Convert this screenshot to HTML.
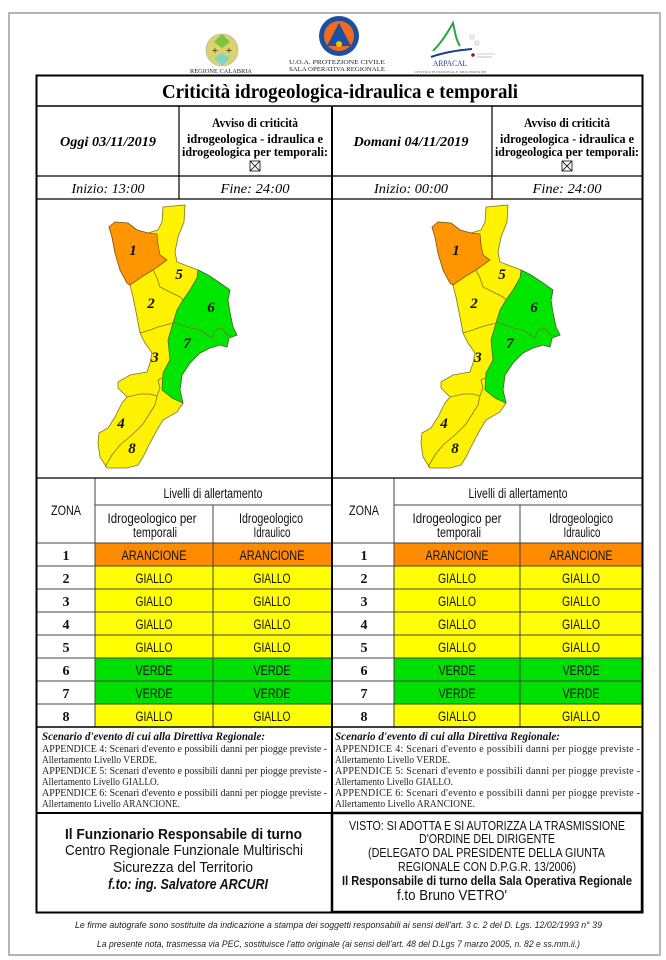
<!DOCTYPE html>
<html><head><meta charset="utf-8"><style>
html,body{margin:0;padding:0;background:#fff;}
svg{display:block;}
.sf{font-family:"Liberation Serif",serif;}
.ss{font-family:"Liberation Sans",sans-serif;}
</style></head><body>
<svg width="666" height="960" viewBox="0 0 666 960" xmlns="http://www.w3.org/2000/svg">
<rect width="666" height="960" fill="#fff"/>
<rect x="9" y="13" width="651" height="942" fill="none" stroke="#b5b5b5" stroke-width="2"/>

<!-- Logos -->
<g>
  <path d="M222,34 C232,34 238,42 238,50 C238,58 232,66 222,66 C212,66 206,58 206,50 C206,42 212,34 222,34Z" fill="#d9d36a" stroke="#bbb" stroke-width="0.8"/>
  <path d="M222,34 L214,42 L222,48 L230,42Z" fill="#7fc241"/>
  <path d="M222,66 L214,58 L222,53 L230,58Z" fill="#7fd3c8"/>
  <text x="215" y="54" font-size="11" class="sf" text-anchor="middle" fill="#111">+</text>
  <text x="229" y="54" font-size="11" class="sf" text-anchor="middle" fill="#111">+</text>
  <text x="221" y="73" font-size="6" class="sf" text-anchor="middle" textLength="62" lengthAdjust="spacingAndGlyphs" fill="#222">REGIONE CALABRIA</text>

  <circle cx="339" cy="36" r="20" fill="#1b4fa0"/>
  <circle cx="339" cy="36" r="15" fill="#f26a21"/>
  <path d="M339,23 L327,46 L351,46Z" fill="#1b4fa0"/>
  <circle cx="339" cy="44" r="3" fill="#f5c400"/>
  <text x="337" y="64" font-size="6.5" class="sf" text-anchor="middle" textLength="96" lengthAdjust="spacingAndGlyphs" fill="#222">U.O.A. PROTEZIONE CIVILE</text>
  <text x="337" y="71" font-size="6.5" class="sf" text-anchor="middle" textLength="96" lengthAdjust="spacingAndGlyphs" fill="#222">SALA OPERATIVA REGIONALE</text>

  <path d="M433,51 C442,42 448,32 453,23 C455,32 456,40 460,46" fill="none" stroke="#2aa640" stroke-width="2"/>
  <path d="M431,57 C445,52 460,50 472,49" fill="none" stroke="#1b3c8f" stroke-width="2"/>
  <text x="450" y="66" font-size="8" class="sf" text-anchor="middle" textLength="34" lengthAdjust="spacingAndGlyphs" fill="#1b3c8f">ARPACAL</text>
  <text x="450" y="73" font-size="3.5" class="sf" text-anchor="middle" textLength="72" lengthAdjust="spacingAndGlyphs" fill="#666">CENTRO FUNZIONALE MULTIRISCHI</text>
  <circle cx="472" cy="37" r="2" fill="none" stroke="#b8a" stroke-width="0.6"/>
  <circle cx="477" cy="43" r="2" fill="none" stroke="#b8a" stroke-width="0.6"/>
  <circle cx="473" cy="55" r="1.8" fill="#8b1a2e"/>
  <line x1="477" y1="54" x2="495" y2="54" stroke="#999" stroke-width="0.6"/>
  <line x1="477" y1="57" x2="492" y2="57" stroke="#999" stroke-width="0.6"/>
</g>

<!-- Table colored cells -->
<g>
  <!-- left -->
  <rect x="95" y="543" width="236" height="23" fill="#ff8c00"/>
  <rect x="95" y="566" width="236" height="92" fill="#ffff00"/>
  <rect x="95" y="658" width="236" height="46" fill="#00e000"/>
  <rect x="95" y="704" width="236" height="23" fill="#ffff00"/>
  <!-- right -->
  <rect x="394" y="543" width="248" height="23" fill="#ff8c00"/>
  <rect x="394" y="566" width="248" height="92" fill="#ffff00"/>
  <rect x="394" y="658" width="248" height="46" fill="#00e000"/>
  <rect x="394" y="704" width="248" height="23" fill="#ffff00"/>
</g>

<!-- Table lines -->
<g stroke="#444" stroke-width="1">
  <line x1="95" y1="505" x2="331" y2="505"/>
  <line x1="394" y1="505" x2="642" y2="505"/>
  <line x1="36" y1="543" x2="643" y2="543"/>
  <line x1="36" y1="566" x2="643" y2="566"/>
  <line x1="36" y1="589" x2="643" y2="589"/>
  <line x1="36" y1="612" x2="643" y2="612"/>
  <line x1="36" y1="635" x2="643" y2="635"/>
  <line x1="36" y1="658" x2="643" y2="658"/>
  <line x1="36" y1="681" x2="643" y2="681"/>
  <line x1="36" y1="704" x2="643" y2="704"/>
  <line x1="95" y1="478" x2="95" y2="727"/>
  <line x1="213" y1="505" x2="213" y2="727"/>
  <line x1="394" y1="478" x2="394" y2="727"/>
  <line x1="520" y1="505" x2="520" y2="727"/>
</g>

<!-- Main frame lines -->
<g stroke="#000" fill="none">
  <rect x="36.5" y="75.5" width="606" height="837" stroke-width="2"/>
  <line x1="36" y1="106" x2="643" y2="106" stroke-width="1.5"/>
  <line x1="36" y1="176" x2="643" y2="176" stroke-width="1.3"/>
  <line x1="36" y1="199" x2="643" y2="199" stroke-width="1.3"/>
  <line x1="36" y1="478" x2="643" y2="478" stroke-width="1.3"/>
  <line x1="36" y1="727" x2="643" y2="727" stroke-width="1.5"/>
  <line x1="36" y1="813" x2="643" y2="813" stroke-width="2"/>
  <line x1="179" y1="106" x2="179" y2="199" stroke-width="1.2"/>
  <line x1="492" y1="106" x2="492" y2="199" stroke-width="1.2"/>
  <line x1="332" y1="106" x2="332" y2="912" stroke-width="2"/>
</g>

<!-- Title and headers -->
<text x="340" y="98" font-size="20" font-weight="bold" class="sf" text-anchor="middle" textLength="356" lengthAdjust="spacingAndGlyphs">Criticità idrogeologica-idraulica e temporali</text>

<text x="108" y="146" font-size="14" font-weight="bold" font-style="italic" class="sf" text-anchor="middle" textLength="96" lengthAdjust="spacingAndGlyphs">Oggi 03/11/2019</text>
<text x="411" y="146" font-size="14" font-weight="bold" font-style="italic" class="sf" text-anchor="middle" textLength="115" lengthAdjust="spacingAndGlyphs">Domani 04/11/2019</text>

<g class="sf" font-size="12.5" font-weight="bold" text-anchor="middle">
  <text x="255" y="127" textLength="86" lengthAdjust="spacingAndGlyphs">Avviso di criticità</text>
  <text x="255" y="143" textLength="136" lengthAdjust="spacingAndGlyphs">idrogeologica - idraulica e</text>
  <text x="255" y="156" textLength="146" lengthAdjust="spacingAndGlyphs">idrogeologica per temporali:</text>
  <text x="567" y="127" textLength="86" lengthAdjust="spacingAndGlyphs">Avviso di criticità</text>
  <text x="567" y="143" textLength="134" lengthAdjust="spacingAndGlyphs">idrogeologica - idraulica e</text>
  <text x="567" y="156" textLength="144" lengthAdjust="spacingAndGlyphs">idrogeologica per temporali:</text>
</g>
<g fill="none" stroke="#222" stroke-width="0.9">
  <rect x="250" y="161" width="10" height="10"/>
  <line x1="250" y1="161" x2="260" y2="171"/><line x1="260" y1="161" x2="250" y2="171"/>
  <rect x="562" y="161" width="10" height="10"/>
  <line x1="562" y1="161" x2="572" y2="171"/><line x1="572" y1="161" x2="562" y2="171"/>
</g>

<g class="sf" font-size="14" font-style="italic" text-anchor="middle">
  <text x="108" y="193" textLength="73" lengthAdjust="spacingAndGlyphs">Inizio: 13:00</text>
  <text x="255" y="193" textLength="69" lengthAdjust="spacingAndGlyphs">Fine: 24:00</text>
  <text x="411" y="193" textLength="74" lengthAdjust="spacingAndGlyphs">Inizio: 00:00</text>
  <text x="567" y="193" textLength="69" lengthAdjust="spacingAndGlyphs">Fine: 24:00</text>
</g>

<!-- Maps -->
<g id="mapL">
  <polygon points="163,207 185,205 184,222 178,237 175,252 177,262 198,270 208,275 220,283 230,290 228,300 230,313 233,327 237,335 229,338 227,347 220,345 210,348 200,353 190,363 182,375 180,390 183,403 177,412 163,420 157,430 150,443 143,457 138,465 127,468 107,468 100,457 98,443 99,433 108,428 115,417 122,403 127,397 118,388 118,382 130,375 147,372 150,363 152,353 145,343 140,333 137,317 133,297 130,285 127,283 120,270 115,253 112,237 109,227 115,222 128,223 137,230 148,233 158,230 162,222" fill="#fff200" stroke="#7a7430" stroke-width="0.8"/>
  <polygon points="109,227 115,222 128,223 137,230 148,233 157,234 158,245 160,255 167,260 160,265 153,270 143,276 130,285 127,283 120,270 115,253 112,237" fill="#ff9500" stroke="#7a5a20" stroke-width="0.8"/>
  <polygon points="198,270 208,275 220,283 230,290 228,300 230,313 233,327 237,335 229,338 227,347 220,345 210,348 200,353 190,363 182,375 180,390 183,403 172,398 162,390 163,373 170,360 168,340 173,323 177,310 183,300 190,290 197,278" fill="#00e600" stroke="#3a6a30" stroke-width="0.8"/>
  <g fill="none" stroke="#7a7430" stroke-width="0.8">
    <polyline points="153,270 157,278 160,287 170,292 180,297 183,300"/>
    <polyline points="140,333 150,330 158,327 173,323"/>
    <polyline points="173,322 187,327 200,330 212,338 215,330 222,328 227,335 233,336"/>
    <polyline points="127,397 140,394 150,394 157,396"/>
    <polyline points="157,396 160,388 158,380 162,378"/>
    <polyline points="105,467 112,455 120,445 132,435 143,424 150,413 155,405 157,396"/>
  </g>
  <g class="sf" font-size="15" font-weight="bold" font-style="italic" text-anchor="middle" fill="#111">
    <text x="133" y="255">1</text><text x="179" y="279">5</text><text x="151" y="308">2</text>
    <text x="211" y="312">6</text><text x="187" y="348">7</text><text x="155" y="362">3</text>
    <text x="121" y="428">4</text><text x="132" y="453">8</text>
  </g>
</g>
<g transform="translate(323,0)">
  <polygon points="163,207 185,205 184,222 178,237 175,252 177,262 198,270 208,275 220,283 230,290 228,300 230,313 233,327 237,335 229,338 227,347 220,345 210,348 200,353 190,363 182,375 180,390 183,403 177,412 163,420 157,430 150,443 143,457 138,465 127,468 107,468 100,457 98,443 99,433 108,428 115,417 122,403 127,397 118,388 118,382 130,375 147,372 150,363 152,353 145,343 140,333 137,317 133,297 130,285 127,283 120,270 115,253 112,237 109,227 115,222 128,223 137,230 148,233 158,230 162,222" fill="#fff200" stroke="#7a7430" stroke-width="0.8"/>
  <polygon points="109,227 115,222 128,223 137,230 148,233 157,234 158,245 160,255 167,260 160,265 153,270 143,276 130,285 127,283 120,270 115,253 112,237" fill="#ff9500" stroke="#7a5a20" stroke-width="0.8"/>
  <polygon points="198,270 208,275 220,283 230,290 228,300 230,313 233,327 237,335 229,338 227,347 220,345 210,348 200,353 190,363 182,375 180,390 183,403 172,398 162,390 163,373 170,360 168,340 173,323 177,310 183,300 190,290 197,278" fill="#00e600" stroke="#3a6a30" stroke-width="0.8"/>
  <g fill="none" stroke="#7a7430" stroke-width="0.8">
    <polyline points="153,270 157,278 160,287 170,292 180,297 183,300"/>
    <polyline points="140,333 150,330 158,327 173,323"/>
    <polyline points="173,322 187,327 200,330 212,338 215,330 222,328 227,335 233,336"/>
    <polyline points="127,397 140,394 150,394 157,396"/>
    <polyline points="157,396 160,388 158,380 162,378"/>
    <polyline points="105,467 112,455 120,445 132,435 143,424 150,413 155,405 157,396"/>
  </g>
  <g class="sf" font-size="15" font-weight="bold" font-style="italic" text-anchor="middle" fill="#111">
    <text x="133" y="255">1</text><text x="179" y="279">5</text><text x="151" y="308">2</text>
    <text x="211" y="312">6</text><text x="187" y="348">7</text><text x="155" y="362">3</text>
    <text x="121" y="428">4</text><text x="132" y="453">8</text>
  </g>
</g>

<!-- Table headers -->
<g class="ss" font-size="13.5" text-anchor="middle" fill="#111">
  <text x="66" y="515" textLength="30" lengthAdjust="spacingAndGlyphs">ZONA</text>
  <text x="213" y="498" textLength="99" lengthAdjust="spacingAndGlyphs">Livelli di allertamento</text>
  <text x="152" y="523" textLength="89" lengthAdjust="spacingAndGlyphs">Idrogeologico per</text>
  <text x="155" y="537" textLength="44" lengthAdjust="spacingAndGlyphs">temporali</text>
  <text x="271" y="523" textLength="64" lengthAdjust="spacingAndGlyphs">Idrogeologico</text>
  <text x="272" y="537" textLength="37" lengthAdjust="spacingAndGlyphs">Idraulico</text>

  <text x="364" y="515" textLength="30" lengthAdjust="spacingAndGlyphs">ZONA</text>
  <text x="518" y="498" textLength="99" lengthAdjust="spacingAndGlyphs">Livelli di allertamento</text>
  <text x="457" y="523" textLength="89" lengthAdjust="spacingAndGlyphs">Idrogeologico per</text>
  <text x="459" y="537" textLength="44" lengthAdjust="spacingAndGlyphs">temporali</text>
  <text x="581" y="523" textLength="64" lengthAdjust="spacingAndGlyphs">Idrogeologico</text>
  <text x="582" y="537" textLength="37" lengthAdjust="spacingAndGlyphs">Idraulico</text>
</g>

<!-- Zone numbers -->
<g class="sf" font-size="14" font-weight="bold" text-anchor="middle" fill="#111">
  <text x="66" y="560">1</text><text x="66" y="583">2</text><text x="66" y="606">3</text><text x="66" y="629">4</text>
  <text x="66" y="652">5</text><text x="66" y="675">6</text><text x="66" y="698">7</text><text x="66" y="721">8</text>
  <text x="364" y="560">1</text><text x="364" y="583">2</text><text x="364" y="606">3</text><text x="364" y="629">4</text>
  <text x="364" y="652">5</text><text x="364" y="675">6</text><text x="364" y="698">7</text><text x="364" y="721">8</text>
</g>

<!-- Cell values -->
<g class="ss" font-size="13.5" text-anchor="middle" fill="#111" lengthAdjust="spacingAndGlyphs">
  <text x="154" y="560" textLength="65" lengthAdjust="spacingAndGlyphs">ARANCIONE</text>
  <text x="272" y="560" textLength="65" lengthAdjust="spacingAndGlyphs">ARANCIONE</text>
  <text x="154" y="583" textLength="37" lengthAdjust="spacingAndGlyphs">GIALLO</text>
  <text x="272" y="583" textLength="37" lengthAdjust="spacingAndGlyphs">GIALLO</text>
  <text x="154" y="606" textLength="37" lengthAdjust="spacingAndGlyphs">GIALLO</text>
  <text x="272" y="606" textLength="37" lengthAdjust="spacingAndGlyphs">GIALLO</text>
  <text x="154" y="629" textLength="37" lengthAdjust="spacingAndGlyphs">GIALLO</text>
  <text x="272" y="629" textLength="37" lengthAdjust="spacingAndGlyphs">GIALLO</text>
  <text x="154" y="652" textLength="37" lengthAdjust="spacingAndGlyphs">GIALLO</text>
  <text x="272" y="652" textLength="37" lengthAdjust="spacingAndGlyphs">GIALLO</text>
  <text x="154" y="675" textLength="37" lengthAdjust="spacingAndGlyphs">VERDE</text>
  <text x="272" y="675" textLength="37" lengthAdjust="spacingAndGlyphs">VERDE</text>
  <text x="154" y="698" textLength="37" lengthAdjust="spacingAndGlyphs">VERDE</text>
  <text x="272" y="698" textLength="37" lengthAdjust="spacingAndGlyphs">VERDE</text>
  <text x="154" y="721" textLength="37" lengthAdjust="spacingAndGlyphs">GIALLO</text>
  <text x="272" y="721" textLength="37" lengthAdjust="spacingAndGlyphs">GIALLO</text>

  <text x="457" y="560" textLength="63" lengthAdjust="spacingAndGlyphs">ARANCIONE</text>
  <text x="581" y="560" textLength="63" lengthAdjust="spacingAndGlyphs">ARANCIONE</text>
  <text x="457" y="583" textLength="38" lengthAdjust="spacingAndGlyphs">GIALLO</text>
  <text x="581" y="583" textLength="38" lengthAdjust="spacingAndGlyphs">GIALLO</text>
  <text x="457" y="606" textLength="38" lengthAdjust="spacingAndGlyphs">GIALLO</text>
  <text x="581" y="606" textLength="38" lengthAdjust="spacingAndGlyphs">GIALLO</text>
  <text x="457" y="629" textLength="38" lengthAdjust="spacingAndGlyphs">GIALLO</text>
  <text x="581" y="629" textLength="38" lengthAdjust="spacingAndGlyphs">GIALLO</text>
  <text x="457" y="652" textLength="38" lengthAdjust="spacingAndGlyphs">GIALLO</text>
  <text x="581" y="652" textLength="38" lengthAdjust="spacingAndGlyphs">GIALLO</text>
  <text x="457" y="675" textLength="37" lengthAdjust="spacingAndGlyphs">VERDE</text>
  <text x="581" y="675" textLength="37" lengthAdjust="spacingAndGlyphs">VERDE</text>
  <text x="457" y="698" textLength="37" lengthAdjust="spacingAndGlyphs">VERDE</text>
  <text x="581" y="698" textLength="37" lengthAdjust="spacingAndGlyphs">VERDE</text>
  <text x="457" y="721" textLength="38" lengthAdjust="spacingAndGlyphs">GIALLO</text>
  <text x="581" y="721" textLength="38" lengthAdjust="spacingAndGlyphs">GIALLO</text>
</g>

<!-- Scenario blocks -->
<g class="sf" fill="#111">
  <text x="42" y="740" font-size="11.5" font-weight="bold" font-style="italic" textLength="223" lengthAdjust="spacingAndGlyphs">Scenario d'evento di cui alla Direttiva Regionale:</text>
  <g font-size="10" fill="#222">
    <text x="42" y="752" textLength="285" lengthAdjust="spacing">APPENDICE 4: Scenari d'evento e possibili danni per piogge previste -</text>
    <text x="42" y="763" textLength="115" lengthAdjust="spacingAndGlyphs">Allertamento Livello VERDE.</text>
    <text x="42" y="774" textLength="285" lengthAdjust="spacing">APPENDICE 5: Scenari d'evento e possibili danni per piogge previste -</text>
    <text x="42" y="785" textLength="117" lengthAdjust="spacingAndGlyphs">Allertamento Livello GIALLO.</text>
    <text x="42" y="796" textLength="285" lengthAdjust="spacing">APPENDICE 6: Scenari d'evento e possibili danni per piogge previste -</text>
    <text x="42" y="807" textLength="138" lengthAdjust="spacingAndGlyphs">Allertamento Livello ARANCIONE.</text>
  </g>
  <text x="335" y="740" font-size="11.5" font-weight="bold" font-style="italic" textLength="225" lengthAdjust="spacingAndGlyphs">Scenario d'evento di cui alla Direttiva Regionale:</text>
  <g font-size="10" fill="#222">
    <text x="335" y="752" textLength="305" lengthAdjust="spacing">APPENDICE 4: Scenari d'evento e possibili danni per piogge previste -</text>
    <text x="335" y="763" textLength="115" lengthAdjust="spacingAndGlyphs">Allertamento Livello VERDE.</text>
    <text x="335" y="774" textLength="305" lengthAdjust="spacing">APPENDICE 5: Scenari d'evento e possibili danni per piogge previste -</text>
    <text x="335" y="785" textLength="118" lengthAdjust="spacingAndGlyphs">Allertamento Livello GIALLO.</text>
    <text x="335" y="796" textLength="305" lengthAdjust="spacing">APPENDICE 6: Scenari d'evento e possibili danni per piogge previste -</text>
    <text x="335" y="807" textLength="140" lengthAdjust="spacingAndGlyphs">Allertamento Livello ARANCIONE.</text>
  </g>
</g>

<!-- Signatures -->
<rect x="332" y="813" width="310" height="99" fill="none" stroke="#000" stroke-width="2.5"/>
<g class="ss" text-anchor="middle" fill="#111">
  <text x="183.5" y="839" font-size="15" font-weight="bold" textLength="237" lengthAdjust="spacingAndGlyphs">Il Funzionario Responsabile di turno</text>
  <text x="184" y="855" font-size="14.5" textLength="238" lengthAdjust="spacingAndGlyphs">Centro Regionale Funzionale Multirischi</text>
  <text x="183" y="872" font-size="14.5" textLength="140" lengthAdjust="spacingAndGlyphs">Sicurezza del Territorio</text>
  <text x="188" y="889" font-size="15" font-weight="bold" font-style="italic" textLength="160" lengthAdjust="spacingAndGlyphs">f.to: ing. Salvatore ARCURI</text>

  <text x="487" y="830" font-size="13" textLength="276" lengthAdjust="spacingAndGlyphs">VISTO: SI ADOTTA E SI AUTORIZZA LA TRASMISSIONE</text>
  <text x="487" y="843" font-size="13" textLength="136" lengthAdjust="spacingAndGlyphs">D'ORDINE DEL DIRIGENTE</text>
  <text x="486.5" y="857" font-size="13" textLength="237" lengthAdjust="spacingAndGlyphs">(DELEGATO DAL PRESIDENTE DELLA GIUNTA</text>
  <text x="487" y="871" font-size="13" textLength="178" lengthAdjust="spacingAndGlyphs">REGIONALE CON D.P.G.R. 13/2006)</text>
  <text x="487" y="885" font-size="13" font-weight="bold" textLength="290" lengthAdjust="spacingAndGlyphs">Il Responsabile di turno della Sala Operativa Regionale</text>
  <text x="452" y="900" font-size="15" textLength="110" lengthAdjust="spacingAndGlyphs">f.to Bruno VETRO'</text>
</g>

<!-- Footer -->
<g class="ss" font-size="9.5" font-style="italic" fill="#222" text-anchor="middle">
  <text x="338.5" y="928" textLength="527" lengthAdjust="spacingAndGlyphs">Le firme autografe sono sostituite da indicazione a stampa dei soggetti responsabili ai sensi dell'art. 3 c. 2 del D. Lgs. 12/02/1993 n° 39</text>
  <text x="338.5" y="947" textLength="483" lengthAdjust="spacingAndGlyphs">La presente nota, trasmessa via PEC, sostituisce l'atto originale (ai sensi dell'art. 48 del D.Lgs 7 marzo 2005, n. 82 e ss.mm.ii.)</text>
</g>
</svg>
</body></html>
